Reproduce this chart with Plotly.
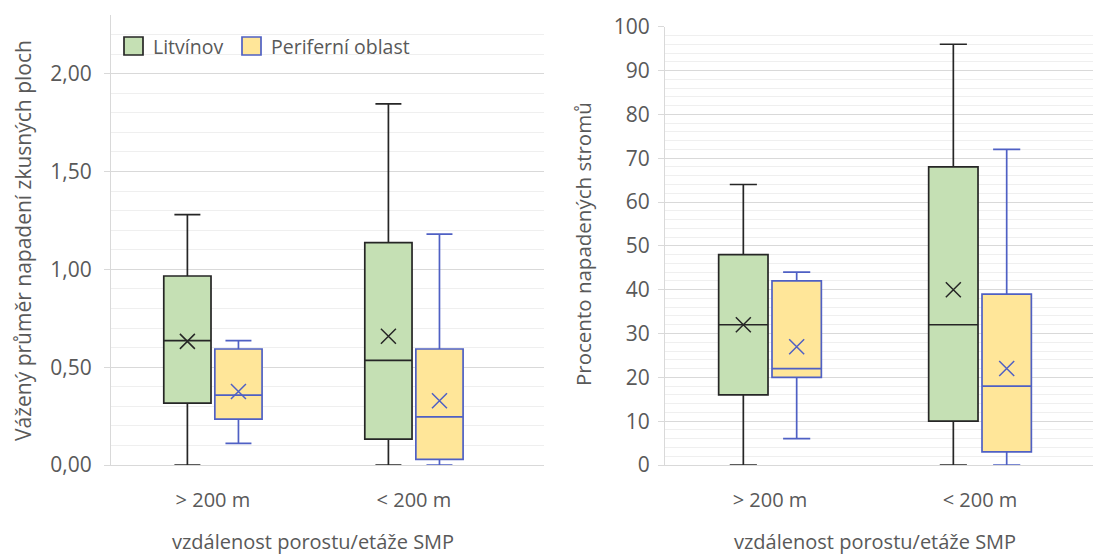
import plotly.graph_objects as go

# Categories (distance of stand from the SMP)
categories = ["> 200 m", "< 200 m"]

# Left panel: weighted mean infestation of sample plots
lit_w_min = [0.0, 0.0]
lit_w_q1 = [0.316, 0.132]
lit_w_med = [0.636, 0.535]
lit_w_q3 = [0.966, 1.137]
lit_w_max = [1.28, 1.846]
lit_w_mean = [0.632, 0.658]

per_w_min = [0.111, 0.0]
per_w_q1 = [0.234, 0.029]
per_w_med = [0.357, 0.246]
per_w_q3 = [0.593, 0.593]
per_w_max = [0.636, 1.18]
per_w_mean = [0.376, 0.328]

# Right panel: percentage of infested trees
lit_p_min = [0, 0]
lit_p_q1 = [16, 10]
lit_p_med = [32, 32]
lit_p_q3 = [48, 68]
lit_p_max = [64, 96]
lit_p_mean = [32, 40]

per_p_min = [6, 0]
per_p_q1 = [20, 3]
per_p_med = [22, 18]
per_p_q3 = [42, 39]
per_p_max = [44, 72]
per_p_mean = [27, 22]

W, H = 1093, 556
FONT = "Open Sans"
TXT = "#595959"
GRID = "#d9d9d9"
MINOR = "#efefef"

LIT_FILL, LIT_LINE = "#c5e0b4", "#262626"
PER_FILL, PER_LINE = "#ffe699", "#4f60c4"

OFFSET = 0.127
BOXW = 0.235

fig = go.Figure()


def add_boxes(xa, ya, q1, med, q3, lo, hi, mean, shift, fill, line, name):
    xs = [i + shift for i in range(len(categories))]
    fig.add_trace(go.Box(
        x=xs, q1=q1, median=med, q3=q3, lowerfence=lo, upperfence=hi,
        width=BOXW, whiskerwidth=0.55, fillcolor=fill,
        line=dict(color=line, width=1.7), name=name, showlegend=False,
        xaxis=xa, yaxis=ya, hoverinfo="skip",
    ))
    fig.add_trace(go.Scatter(
        x=xs, y=mean, mode="markers", showlegend=False,
        marker=dict(symbol="x-thin", size=15, line=dict(color=line, width=1.5)),
        xaxis=xa, yaxis=ya, hoverinfo="skip",
    ))


add_boxes("x", "y", lit_w_q1, lit_w_med, lit_w_q3, lit_w_min, lit_w_max, lit_w_mean,
          -OFFSET, LIT_FILL, LIT_LINE, "Litvínov")
add_boxes("x", "y", per_w_q1, per_w_med, per_w_q3, per_w_min, per_w_max, per_w_mean,
          OFFSET, PER_FILL, PER_LINE, "Periferní oblast")
add_boxes("x2", "y2", lit_p_q1, lit_p_med, lit_p_q3, lit_p_min, lit_p_max, lit_p_mean,
          -OFFSET, LIT_FILL, LIT_LINE, "Litvínov")
add_boxes("x2", "y2", per_p_q1, per_p_med, per_p_q3, per_p_min, per_p_max, per_p_mean,
          OFFSET, PER_FILL, PER_LINE, "Periferní oblast")


def px_x(v):
    return v / W


def px_y(v):
    return 1 - v / H


xaxis_common = dict(
    tickvals=[0, 1], ticktext=categories, showgrid=False, zeroline=False,
    showline=True, linecolor=GRID, linewidth=1, ticks="", ticklabelstandoff=17,
    tickfont=dict(family=FONT, size=20, color=TXT), fixedrange=True, automargin=False,
)

yaxis_common = dict(
    showgrid=True, gridcolor=GRID, gridwidth=1.2, zeroline=False,
    showline=True, linecolor=GRID, ticks="outside", ticklen=6, tickcolor=GRID,
    tickfont=dict(family=FONT, size=21, color=TXT), fixedrange=True, automargin=False,
)

fig.update_layout(
    template="none",
    width=W, height=H, margin=dict(l=0, r=0, t=0, b=0, pad=0), autosize=False,
    paper_bgcolor="white", plot_bgcolor="white", separators=", ",
    showlegend=False,
    xaxis=dict(domain=[px_x(111), px_x(544)], range=[-0.507, 1.647], anchor="y", **xaxis_common),
    xaxis2=dict(domain=[px_x(665), 1.0], range=[-0.5, 1.538], anchor="y2", **xaxis_common),
    yaxis=dict(
        domain=[px_y(465), px_y(15)], range=[0, 2.3], anchor="x",
        tickvals=[0, 0.5, 1.0, 1.5, 2.0], tickformat=".2f", ticklabelstandoff=8,
        minor=dict(dtick=0.1, tick0=0, showgrid=True, gridcolor=MINOR, gridwidth=1),
        **yaxis_common,
    ),
    yaxis2=dict(
        domain=[px_y(465), px_y(26.7)], range=[0, 100], anchor="x2",
        dtick=10, tick0=0, ticklabelstandoff=4,
        minor=dict(dtick=2, tick0=0, showgrid=True, gridcolor=MINOR, gridwidth=1),
        **yaxis_common,
    ),
)

# Axis titles
fig.add_annotation(text="Vážený průměr napadení zkusných ploch", xref="paper", yref="paper",
                   x=px_x(23), y=px_y(241), textangle=-90, showarrow=False,
                   font=dict(family=FONT, size=21, color=TXT), xanchor="center", yanchor="middle")
fig.add_annotation(text="Procento napadených stromů", xref="paper", yref="paper",
                   x=px_x(583), y=px_y(244), textangle=-90, showarrow=False,
                   font=dict(family=FONT, size=20.5, color=TXT), xanchor="center", yanchor="middle")
for cx in (313, 875):
    fig.add_annotation(text="vzdálenost porostu/etáže SMP", xref="paper", yref="paper",
                       x=px_x(cx), y=px_y(541), showarrow=False,
                       font=dict(family=FONT, size=20, color=TXT),
                       xanchor="center", yanchor="middle")

# Legend (left panel)
legend_items = [("Litvínov", LIT_FILL, LIT_LINE, 124), ("Periferní oblast", PER_FILL, PER_LINE, 242)]
for label, fill, line, x0 in legend_items:
    fig.add_shape(type="rect", xref="paper", yref="paper",
                  x0=px_x(x0), x1=px_x(x0 + 19), y0=px_y(55), y1=px_y(37),
                  fillcolor=fill, line=dict(color=line, width=1.7))
    fig.add_annotation(text=label, xref="paper", yref="paper",
                       x=px_x(x0 + 27), y=px_y(46), showarrow=False,
                       xanchor="left", yanchor="middle",
                       font=dict(family=FONT, size=19.5, color=TXT))

fig.write_html("out.html")
